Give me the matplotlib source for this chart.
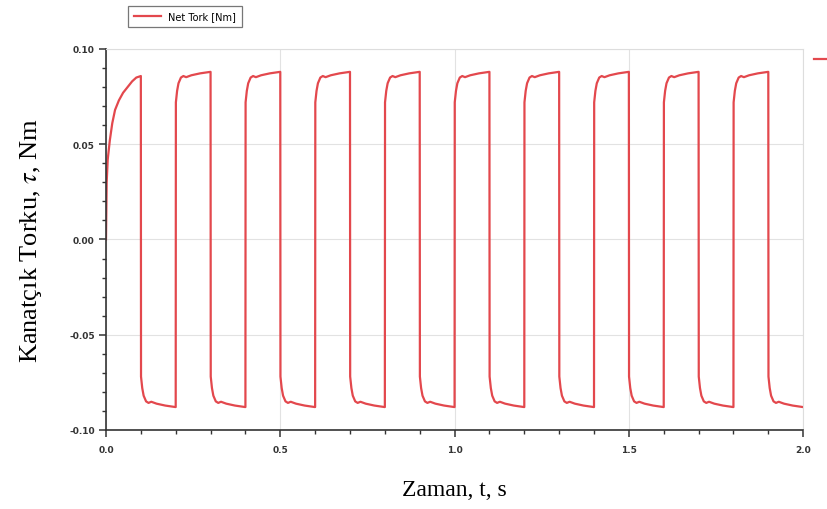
import numpy as np
import matplotlib
matplotlib.use("Agg")
import matplotlib.pyplot as plt
from matplotlib.lines import Line2D
from matplotlib.ticker import MultipleLocator, FormatStrFormatter

plt.rcParams["mathtext.fontset"] = "stix"

# first rise from rest
t_first = [0.0, 0.002, 0.005, 0.011, 0.018, 0.026, 0.037, 0.049, 0.062, 0.075, 0.087, 0.100]
v_first = [0.0, 0.030, 0.042, 0.052, 0.061, 0.068, 0.073, 0.077, 0.080, 0.083, 0.085, 0.0858]

# shape of one half period after each switch (time since switch, |torque|)
half_dt = [0.0005, 0.004, 0.008, 0.015, 0.022, 0.030, 0.045, 0.070, 0.100]
half_val = [0.072, 0.078, 0.082, 0.085, 0.0858, 0.0852, 0.0862, 0.0872, 0.088]

# switching instants and sign of the torque after each switch
switch_t = [0.1, 0.2, 0.3, 0.4, 0.5, 0.6, 0.7, 0.8, 0.9, 1.0,
            1.1, 1.2, 1.3, 1.4, 1.5, 1.6, 1.7, 1.8, 1.9]
switch_sign = [-1, 1, -1, 1, -1, 1, -1, 1, -1, 1,
               -1, 1, -1, 1, -1, 1, -1, 1, -1]

t = list(t_first)
tork = list(v_first)
for ts, sg in zip(switch_t, switch_sign):
    for dt, v in zip(half_dt, half_val):
        t.append(ts + dt)
        tork.append(sg * v)

fig = plt.figure(figsize=(8.28, 5.10), dpi=100)
ax = fig.add_axes([0.128, 0.155, 0.842, 0.747])

ax.plot(t, tork, color="#e3484d", lw=1.6, label="Net Tork [Nm]")

ax.set_xlim(0, 2.0)
ax.set_ylim(-0.10, 0.10)
ax.xaxis.set_major_locator(MultipleLocator(0.5))
ax.xaxis.set_minor_locator(MultipleLocator(0.1))
ax.yaxis.set_major_locator(MultipleLocator(0.05))
ax.yaxis.set_minor_locator(MultipleLocator(0.01))
ax.xaxis.set_major_formatter(FormatStrFormatter("%.1f"))
ax.yaxis.set_major_formatter(FormatStrFormatter("%.2f"))

ax.grid(True, which="major", color="#e2e2e2", lw=0.8)
ax.set_axisbelow(True)
for s in ["top", "right"]:
    ax.spines[s].set_color("#dddddd")
for s in ["left", "bottom"]:
    ax.spines[s].set_color("#333333")
    ax.spines[s].set_linewidth(1.2)

ax.tick_params(which="both", direction="out", colors="#333333", labelsize=6.5,
               pad=3, top=False, right=False)
ax.tick_params(which="major", length=5, width=1.1)
ax.tick_params(which="minor", length=3, width=1.0)
for lab in ax.get_xticklabels() + ax.get_yticklabels():
    lab.set_fontweight("bold")
ax.tick_params(axis="x", pad=6)

ax.set_xlabel("Zaman, t, s", family="Liberation Serif", fontsize=17, labelpad=18)
ax.set_ylabel(r"Kanatçık Torku, $\tau$, Nm", family="Liberation Serif", fontsize=19,
              labelpad=18)

leg = ax.legend(loc="lower left", bbox_to_anchor=(0.032, 1.057), fontsize=7,
                frameon=True, fancybox=False, edgecolor="#555555",
                handlelength=2.8, borderpad=0.6, handletextpad=0.7,
                borderaxespad=0)
leg.get_frame().set_linewidth(0.9)

# cut-off legend entry at the right edge
fig.add_artist(Line2D([0.983, 1.0], [0.882, 0.882], color="#e3484d", lw=1.6))

fig.savefig("out.png", dpi=100)
